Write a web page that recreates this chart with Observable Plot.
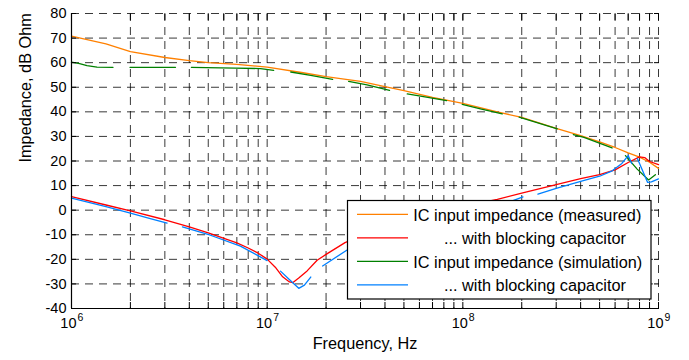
<!DOCTYPE html>
<html><head><meta charset="utf-8">
<script src="https://cdn.jsdelivr.net/npm/d3@7"></script>
<script src="https://cdn.jsdelivr.net/npm/@observablehq/plot@0.6"></script>
<style>
html,body{margin:0;padding:0;background:#fff;}
#chart{width:689px;height:360px;}
</style></head><body><div id="chart"></div>
<script>
// ---- axis ticks / labels ----
const yTicks = [-40,-30,-20,-10,0,10,20,30,40,50,60,70,80];
const xMajorTicks = [1e6,1e7,1e8,1e9];
const xMajorExp = ["6","7","8","9"];
const decadeStarts = [1e6,1e7,1e8];
const minorMults = [1,2,3,4,5,6,7,8,9];
const xGrid = decadeStarts.flatMap(d => minorMults.map(m => d*m)).concat([1e9]);

// ---- series: IC input impedance (measured) ----
const measFreq = [1e6,1.5e6,2e6,3e6,4e6,5e6,7e6,1e7,1.5e7,2e7,3e7,4e7,5e7,7e7,1e8,1.5e8,2e8,3e8,4e8,5e8,6e8,7e8,8e8,9e8,1e9];
const measZ    = [70.8,67.6,64.5,62.1,60.8,60.0,59.3,58.2,56.0,54.3,52.4,50.3,48.6,45.9,43.4,40.0,37.7,33.3,30.3,27.8,25.5,23.3,21.6,19.5,17.0];

// ---- series: measured, with blocking capacitor ----
const measCapFreq = [1e6,1.5e6,2e6,3e6,4e6,5e6,7e6,8e6,9e6,1e7,1.1e7,1.2e7,1.3e7,1.35e7,1.45e7,1.6e7,1.8e7,2e7,2.5e7,3e7,4e7,5e7,7e7,1e8,1.5e8,2e8,3e8,4e8,5e8,6e8,7e8,8e8,8.5e8,9e8,1e9];
const measCapZ    = [5.5,2.1,-0.3,-3.9,-6.8,-9.2,-13.3,-15.4,-17.5,-19.9,-23.2,-27.1,-29.2,-29.5,-27.6,-24.7,-20.4,-18.0,-13.2,-10.5,-6.8,-4.2,-1.0,1.5,4.4,6.9,10.4,12.8,14.5,16.4,19.4,21.7,21.4,19.8,18.5];

// ---- series: IC input impedance (simulation), null = gap ----
const simFreq = [1e6,1.1e6,1.2e6,1.35e6,1.63e6,1.8e6,1.99e6,3.4e6,3.7e6,4.1e6,6.9e6,9.25e6,1.08e7,1.2e7,1.32e7,1.67e7,2.16e7,2.4e7,2.61e7,3.24e7,4.22e7,4.7e7,5.2e7,6.08e7,8.26e7,9e7,9.93e7,1.23e8,1.59e8,1.75e8,1.94e8,3.04e8,3.3e8,3.67e8,4.16e8,5.79e8,6.3e8,6.78e8,7.78e8,8.9e8,9.64e8];
const simZ    = [60.2,59.6,58.8,58.2,58.1,null,58.1,58.1,null,58.1,57.8,57.6,56.9,null,56.2,54.8,53.2,null,52.4,51.0,48.7,null,47.3,46.4,44.6,null,43.0,41.2,39.2,null,37.8,33.1,null,30.7,29.6,25.3,null,22.2,16.7,12.3,14.4];

// ---- series: simulation, with blocking capacitor, null = gap ----
const simCapFreq = [1e6,1.5e6,2e6,2.5e6,3.08e6,3.4e6,3.69e6,5.13e6,7.3e6,1e7,1.08e7,1.17e7,1.31e7,1.45e7,1.55e7,1.67e7,1.8e7,1.92e7,2.55e7,3e7,5e7,1e8,1.79e8,2.03e8,2.2e8,2.42e8,3e8,4e8,5e8,5.8e8,6.5e8,7e8,7.3e8,7.55e8,7.8e8,8.1e8,8.8e8,9.2e8,1e9];
const simCapZ    = [4.9,1.4,-1.2,-3.3,-5.3,null,-6.8,-10.2,-14.6,-20.5,null,-24.8,-28.5,-31.8,-30.5,-27.2,null,-22.7,-16.3,-13.5,-6.5,0.0,3.8,5.4,null,6.5,8.9,11.7,13.8,16.0,19.0,22.2,19.0,null,21.0,18.0,11.3,11.5,12.7];

const legendLabels = ["IC input impedance (measured)", "... with blocking capacitor", "IC input impedance (simulation)", "... with blocking capacitor"];
const seriesColors = ["#ff8000", "#ff0000", "#008000", "#0080ff"];

const rows = (fs, vs) => fs.map((f, i) => ({f, v: vs[i]}));

const font = "'Liberation Sans', Arial, Helvetica, sans-serif";
const gridStyle = {stroke: "#000", strokeOpacity: 0.78, strokeWidth: 1, strokeDasharray: "8,6"};

const plot = Plot.plot({
  width: 689, height: 360,
  marginLeft: 71, marginRight: 31, marginTop: 13, marginBottom: 52,
  x: {type: "log", domain: [1e6, 1e9]},
  y: {domain: [-40, 80]},
  style: {fontFamily: font, fontSize: "14.5px", background: "white", color: "black"},
  marks: [
    Plot.ruleX(xGrid, gridStyle),
    Plot.ruleY(yTicks, gridStyle),
    Plot.line(rows(measFreq, measZ), {x: "f", y: "v", stroke: seriesColors[0], strokeWidth: 1.3}),
    Plot.line(rows(measCapFreq, measCapZ), {x: "f", y: "v", stroke: seriesColors[1], strokeWidth: 1.3}),
    Plot.line(rows(simFreq, simZ), {x: "f", y: "v", stroke: seriesColors[2], strokeWidth: 1.3}),
    Plot.line(rows(simCapFreq, simCapZ), {x: "f", y: "v", stroke: seriesColors[3], strokeWidth: 1.3}),
    Plot.ruleY([-40], {stroke: "black", strokeWidth: 1.2}),
    Plot.ruleX([1e6], {stroke: "black", strokeWidth: 1.2}),
    Plot.axisX({anchor: "bottom", ticks: xGrid, tickSize: -6, tickFormat: () => "", label: null}),
    Plot.axisX({anchor: "top", ticks: xGrid, tickSize: -6, tickFormat: () => "", label: null}),
    Plot.axisY({anchor: "left", ticks: yTicks, tickSize: -5, tickFormat: () => "", label: null}),
    Plot.axisY({anchor: "right", ticks: yTicks, tickSize: -5, tickFormat: () => "", label: null}),
    Plot.text(yTicks, {y: d => d, text: d => String(d), frameAnchor: "left", textAnchor: "end", dx: -5, fontSize: 14.5, fill: "black"}),
    Plot.text(xMajorTicks, {x: d => d, text: () => "10", frameAnchor: "bottom", textAnchor: "end", dx: 5, dy: 19.7, fontSize: 14.5, fill: "black"}),
    Plot.text(xMajorTicks, {x: d => d, text: (d, i) => xMajorExp[i], frameAnchor: "bottom", textAnchor: "start", dx: 6, dy: 12.2, fontSize: 10.5, fill: "black"}),
    Plot.text(["Frequency, Hz"], {text: d => d, frameAnchor: "bottom", dy: 40, fontSize: 16.3, fill: "black"}),
    Plot.text(["Impedance, dB Ohm"], {text: d => d, frameAnchor: "left", rotate: -90, dx: -45.5, dy: 1.5, fontSize: 16.3, fill: "black"})
  ]
});

// legend box drawn on top of the plot area
const svg = d3.select(plot);
const lg = svg.append("g").attr("font-family", font).attr("font-size", "16.3px").attr("text-anchor", "start");
lg.append("rect").attr("x", 347.5).attr("y", 200.5).attr("width", 303.5).attr("height", 98.5)
  .attr("fill", "white").attr("stroke", "black").attr("stroke-width", 1.2);
const textX = [413.3, 444, 413.3, 444];
legendLabels.forEach((t, i) => {
  const yl = 214.3 + i * 23.5;
  lg.append("line").attr("x1", 357).attr("x2", 408).attr("y1", yl).attr("y2", yl)
    .attr("stroke", seriesColors[i]).attr("stroke-width", 1.3);
  lg.append("text").attr("x", textX[i]).attr("y", yl + 6.3).attr("fill", "black")
    .attr("text-anchor", "start").text(t);
});

document.getElementById("chart").appendChild(plot);
</script>
</body></html>
